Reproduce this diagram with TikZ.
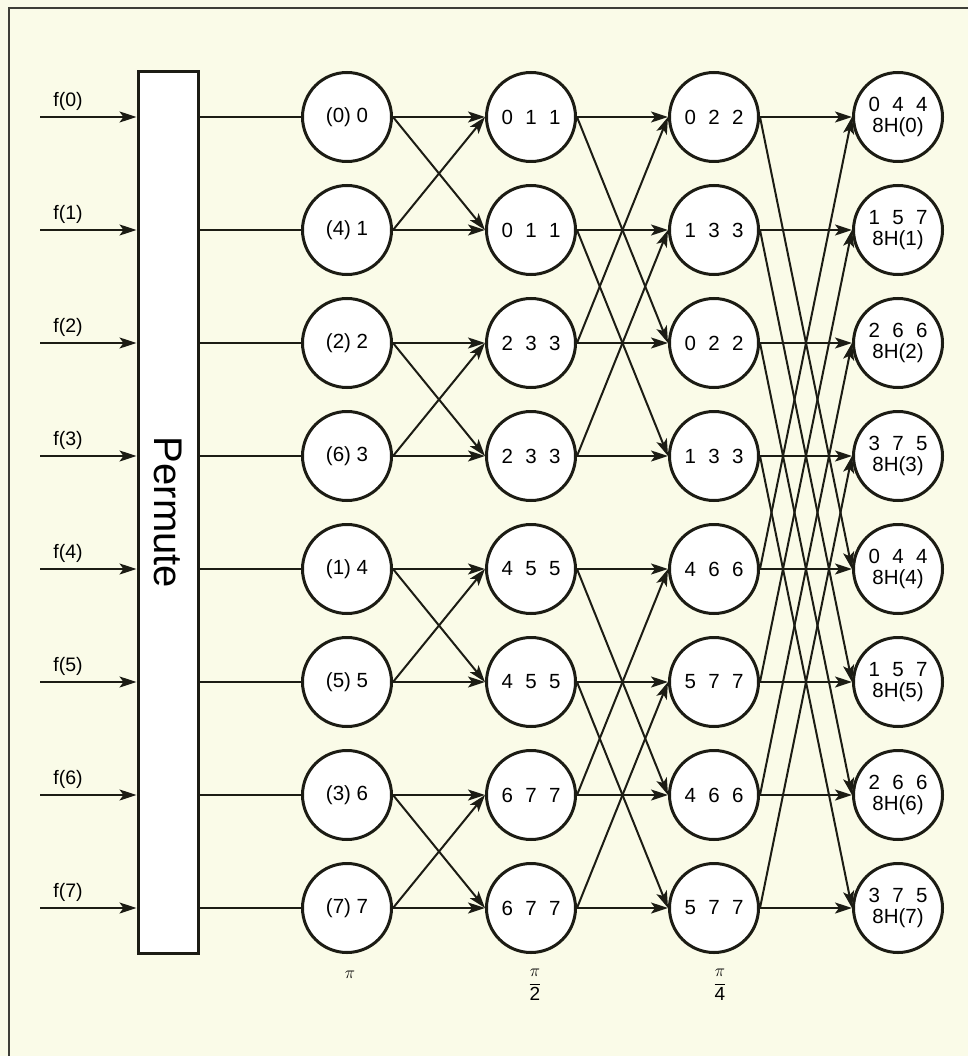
\documentclass[tikz,border=0pt]{standalone}
\usepackage{fontspec}
\setmainfont{Liberation Sans}
\usetikzlibrary{arrows.meta}
\definecolor{bg}{HTML}{FAFBE8}
\definecolor{ink}{HTML}{1C1C14}
\newcommand{\trip}[3]{#1\hspace{0.6em}#2\hspace{0.6em}#3}
\newcommand{\dgt}[1]{\mbox{\fontsize{19}{20}\selectfont #1}}
\begin{document}
\begin{tikzpicture}[x=1pt,y=-1pt,
  nd/.style={circle,draw=ink,line width=3pt,fill=white,minimum size=89pt,inner sep=0pt,
    font=\fontsize{20.5}{23}\selectfont,align=center},
  wire/.style={draw=ink,line width=2pt},
  arr/.style={wire,-{Stealth[length=17pt,width=11pt,inset=4pt]}},
  lbl/.style={font=\fontsize{19.5}{21}\selectfont,inner sep=0pt},
  mlbl/.style={font=\fontsize{17}{20}\selectfont,inner sep=0pt}
]
\useasboundingbox (0,0) rectangle (968,1056);
\fill[bg] (0,0) rectangle (968,1056);
\draw[ink!85,line width=2pt] (968,8) -- (9,8) -- (9,1056);

% permute box
\node (P) [draw=ink,line width=3pt,fill=white,minimum width=60pt,minimum height=881pt,inner sep=0pt] at (168,512.5) {};
\node (Ptxt) [rotate=-90,font=\fontsize{40}{40}\selectfont,inner sep=0pt] at (P.center) {Permute};

% nodes
\foreach \i/\t in {0/(0) 0,1/(4) 1,2/(2) 2,3/(6) 3,4/(1) 4,5/(5) 5,6/(3) 6,7/(7) 7}
  \node[nd] (a\i) at (347,117+113*\i) {\t};
\foreach \i/\p/\q/\r in {0/0/1/1,1/0/1/1,2/2/3/3,3/2/3/3,4/4/5/5,5/4/5/5,6/6/7/7,7/6/7/7}
  \node[nd] (b\i) at (531,117+113*\i) {\trip{\p}{\q}{\r}};
\foreach \i/\p/\q/\r in {0/0/2/2,1/1/3/3,2/0/2/2,3/1/3/3,4/4/6/6,5/5/7/7,6/4/6/6,7/5/7/7}
  \node[nd] (c\i) at (714,117+113*\i) {\trip{\p}{\q}{\r}};
\foreach \i/\p/\q/\r in {0/0/4/4,1/1/5/7,2/2/6/6,3/3/7/5,4/0/4/4,5/1/5/7,6/2/6/6,7/3/7/5}
  \node[nd] (d\i) at (898,117+113*\i) {\trip{\p}{\q}{\r}\\[-2pt]8H(\i)};

% inputs
\foreach \i in {0,...,7}{
  \coordinate (in\i) at (40,117+113*\i);
  \node[lbl] (f\i) at (68,101+113*\i) {f(\i)};
  \draw[arr] (in\i) -- (P.west |- in\i);
  \draw[wire] (P.east |- a\i) -- (a\i);
}

% stage 1
\foreach \i/\j in {0/1,1/0,2/3,3/2,4/5,5/4,6/7,7/6}{
  \draw[arr] (a\i.east) -- (b\i.west);
  \draw[arr] (a\i.east) -- (b\j.west);
}
% stage 2
\foreach \i/\j in {0/2,1/3,2/0,3/1,4/6,5/7,6/4,7/5}{
  \draw[arr] (b\i.east) -- (c\i.west);
  \draw[arr] (b\i.east) -- (c\j.west);
}
% stage 3
\foreach \i/\j in {0/4,1/5,2/6,3/7,4/0,5/1,6/2,7/3}{
  \draw[arr] (c\i.east) -- (d\i.west);
  \draw[arr] (c\i.east) -- (d\j.west);
}

% stage labels
\node[mlbl] (s1) at (350,975) {$\pi$};
\node[mlbl] (s2) at (535,985) {$\displaystyle\frac{\pi}{\dgt{2}}$};
\node[mlbl] (s3) at (720,985) {$\displaystyle\frac{\pi}{\dgt{4}}$};
\end{tikzpicture}
\end{document}
